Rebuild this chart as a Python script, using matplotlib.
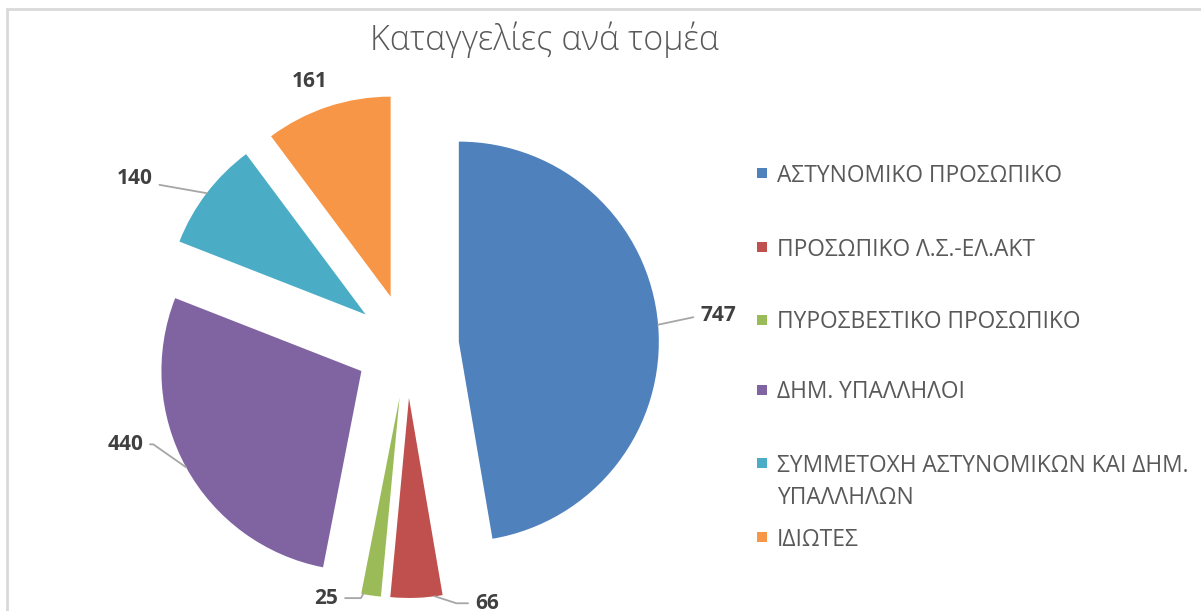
import numpy as np
import matplotlib
matplotlib.use("Agg")
import matplotlib.pyplot as plt
from matplotlib.patches import Rectangle

plt.rcParams['font.family'] = ['Open Sans', 'DejaVu Sans']

# data
title = "Καταγγελίες ανά τομέα"
categories = [
    "ΑΣΤΥΝΟΜΙΚΟ ΠΡΟΣΩΠΙΚΟ",
    "ΠΡΟΣΩΠΙΚΟ Λ.Σ.-ΕΛ.ΑΚΤ",
    "ΠΥΡΟΣΒΕΣΤΙΚΟ ΠΡΟΣΩΠΙΚΟ",
    "ΔΗΜ. ΥΠΑΛΛΗΛΟΙ",
    "ΣΥΜΜΕΤΟΧΗ ΑΣΤΥΝΟΜΙΚΩΝ ΚΑΙ ΔΗΜ.\nΥΠΑΛΛΗΛΩΝ",
    "ΙΔΙΩΤΕΣ",
]
counts = [747, 66, 25, 440, 140, 161]
colors = ['#4F81BD', '#C0504D', '#9BBB59', '#8064A2', '#4BACC6', '#F79646']

# layout (pixels, screen coords: y down)
W, H = 1201, 611
pie_center = (407, 346)
pie_radius = 200
explode_frac = 0.26
attach_frac = [0.5, 0.85, 0.1, 0.5, 0.5, 0.5]        # where the leader touches the arc
label_offset = [(60, -9), (52, 7), (-37, 4), (-61, -23), (-72, -15), (-18, -25)]
leader_angle = [12, -18, 60, 145, 170, None]
legend_x = 762
legend_y = [173, 247, 320, 390, 463, 537]

fig = plt.figure(figsize=(W / 100, H / 100), dpi=100)
ax = fig.add_axes([0, 0, 1, 1])

# chart frame (runs off the bottom/right like the screenshot)
ax.add_patch(Rectangle((7, -20), W + 20, H - 9 + 20, fill=False,
                       ec='#D9D9D9', lw=2))

# matplotlib's explode is in data units, so scale it by the radius
wedges, _ = ax.pie(counts, colors=colors, startangle=90, counterclock=False,
                   explode=[explode_frac * pie_radius] * len(counts),
                   center=(pie_center[0], H - pie_center[1]),
                   radius=pie_radius, frame=True,
                   wedgeprops=dict(linewidth=0))
ax.set_xlim(0, W)
ax.set_ylim(0, H)
ax.set_aspect('equal')
ax.axis('off')

for w, val, f, (dx, dy), ang in zip(wedges, counts, attach_frac, label_offset, leader_angle):
    t = np.deg2rad(w.theta1 + f * (w.theta2 - w.theta1))
    cx, cy = w.center
    px, py = cx + w.r * np.cos(t), cy + w.r * np.sin(t)
    if ang is None:
        ax.text(px + dx, py - dy, str(val), ha='center', va='center',
                fontsize=15, fontweight='bold', color='#404040')
    else:
        ax.annotate(str(val), xy=(px, py), xytext=(px + dx, py - dy),
                    ha='center', va='center', fontsize=15, fontweight='bold',
                    color='#404040',
                    arrowprops=dict(arrowstyle='-', color='#A6A6A6', lw=1.3,
                                    shrinkA=3, shrinkB=0,
                                    connectionstyle=f'angle,angleA=0,angleB={ang},rad=0'))

# legend
for lab, col, y in zip(categories, colors, legend_y):
    ax.scatter([legend_x], [H - y], marker='s', s=55, color=col, linewidths=0)
    ax.text(legend_x + 15, H - y + 9.5, lab, ha='left', va='top', fontsize=16.4,
            color='#595959', linespacing=1.5)

ax.text(544, H - 40, title, ha='center', va='center', fontsize=24.5,
        color='#595959', fontweight='light')

fig.savefig('out.png', dpi=100)
